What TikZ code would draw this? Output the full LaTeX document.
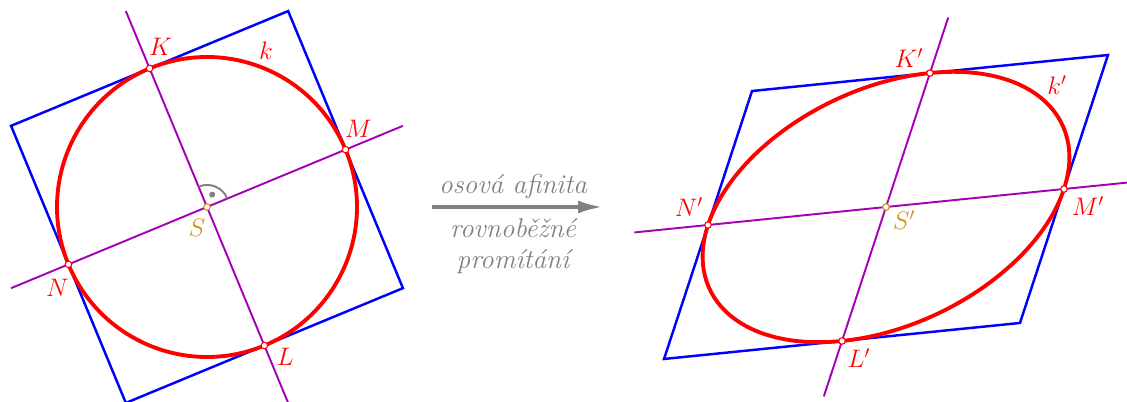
\documentclass[tikz,border=0pt]{standalone}
\usepackage{xcolor}
\definecolor{cSquare}{HTML}{0000FF}
\definecolor{cCurve}{HTML}{FF0000}
\definecolor{cAxis}{HTML}{A400B8}
\definecolor{cCenter}{HTML}{D68C12}
\definecolor{cGray}{HTML}{808080}
\usetikzlibrary{arrows.meta,calc}
\tikzset{
  edge-square/.style={draw=cSquare,line width=1.4pt,line join=miter},
  edge-curve/.style={draw=cCurve,line width=2.2pt},
  edge-axis/.style={draw=cAxis,line width=1.1pt},
  node-pt/.style={circle,draw=cCurve,fill=white,line width=0.6pt,
    inner sep=0pt,minimum size=1.3mm},
  node-pt-center/.style={node-pt,draw=cCenter},
  node-lbl/.style={text=cCurve,font=\fontsize{14}{17}\selectfont},
  node-lbl-center/.style={text=cCenter,font=\fontsize{14}{17}\selectfont},
  node-text/.style={text=cGray,font=\fontsize{15.5}{17.5}\selectfont\itshape,
    align=center},
  arrow-map/.style={-{Latex[length=5mm,width=2.6mm]},line width=2.2pt,draw=cGray},
  mark-right/.style={draw=cGray,line width=1.1pt},
}

\begin{document}
\begin{tikzpicture}[x=0.02cm,y=0.02cm]
  \useasboundingbox (0,0) rectangle (1127,402);
  % kruznice a ctverec
  \begin{scope}[shift={(207,195)},x={(22.5:3cm)},y={(112.5:3cm)}]
    \draw[edge-square] (-1,-1) -- (1,-1) -- (1,1) -- (-1,1) -- cycle;
    \draw[edge-axis] (-1.414,0) -- (1.414,0);
    \draw[edge-axis] (0,-1.414) -- (0,1.414);
    \draw[mark-right] (0.147,0) arc[start angle=0,end angle=90,radius=0.147];
    \fill[cGray] (45:0.09) circle[radius=0.02];
    \draw[edge-curve] (0,0) circle[radius=1];
    \node[node-pt] (K) at (0,1)  {};
    \node[node-pt] (M) at (1,0)  {};
    \node[node-pt] (L) at (0,-1) {};
    \node[node-pt] (N) at (-1,0) {};
    \node[node-pt-center] (S) at (0,0) {};
  \end{scope}
  \node[node-lbl] at ($(K)+(11,22)$)   {$K$};
  \node[node-lbl] at ($(M)+(13,21)$)   {$M$};
  \node[node-lbl] at ($(L)+(21,-11)$)  {$L$};
  \node[node-lbl] at ($(N)+(-11,-23)$) {$N$};
  \node[node-lbl] at ($(S)+(59,156)$)  {$k$};
  \node[node-lbl-center] at ($(S)+(-10,-21)$) {$S$};
  % elipsa a rovnobeznik
  \begin{scope}[shift={(886,195)},x={(3.56cm,0.36cm)},y={(0.88cm,2.68cm)}]
    \draw[edge-square] (-1,-1) -- (1,-1) -- (1,1) -- (-1,1) -- cycle;
    \draw[edge-axis] (-1.414,0) -- (1.414,0);
    \draw[edge-axis] (0,-1.414) -- (0,1.414);
    \draw[edge-curve] (0,0) circle[radius=1];
    \node[node-pt] (K') at (0,1)  {};
    \node[node-pt] (M') at (1,0)  {};
    \node[node-pt] (L') at (0,-1) {};
    \node[node-pt] (N') at (-1,0) {};
    \node[node-pt-center] (S') at (0,0) {};
  \end{scope}
  \node[node-lbl] at ($(K')+(-21,15)$)  {$K'$};
  \node[node-lbl] at ($(M')+(24,-17)$)  {$M'$};
  \node[node-lbl] at ($(L')+(17,-17)$)  {$L'$};
  \node[node-lbl] at ($(N')+(-19,18)$)  {$N'$};
  \node[node-lbl] at ($(S')+(171,122)$) {$k'$};
  \node[node-lbl-center] at ($(S')+(18,-13)$) {$S'$};
  % zobrazeni
  \coordinate (map-from) at (432,195);
  \coordinate (map-to)   at (603,195);
  \draw[arrow-map] (map-from) -- (map-to);
  \node[node-text] (map-top) at (513,215) {osová afinita};
  \node[node-text] (map-bot) at (513,156) {rovnoběžné\\promítání};
\end{tikzpicture}
\end{document}
